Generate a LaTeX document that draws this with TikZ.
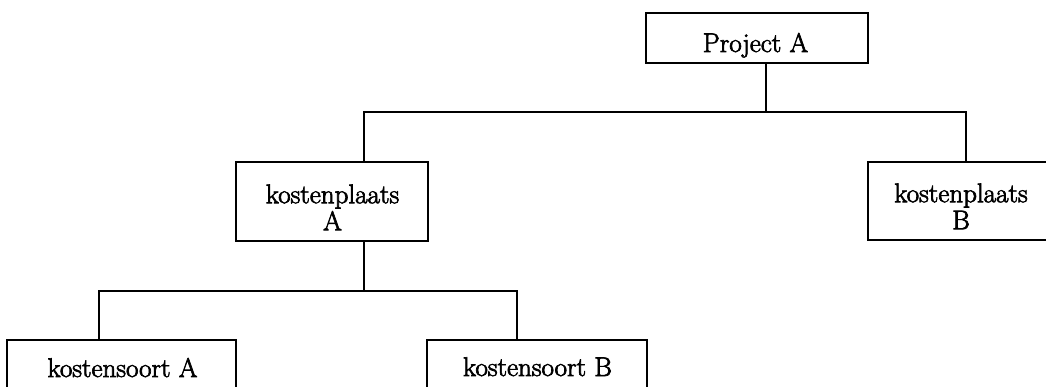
\documentclass[tikz,border=0pt]{standalone}
\usepackage{fontspec}
\setmainfont{Latin Modern Roman}[FakeBold=2.5]
\begin{document}
\begin{tikzpicture}[x=1pt,y=-1pt,
  boxnode/.style={draw=black, line width=1.7pt, inner sep=0pt, fill=none},
  txt/.style={inner sep=0pt, font=\fontsize{27}{27}\selectfont, align=center},
  conn/.style={draw=black, line width=1.7pt}]
\useasboundingbox (0,0) rectangle (1046,387);
\fill[white] (0,0) rectangle (1046,387);
\clip (0,0) rectangle (1046,387);
% boxes
\node[boxnode, minimum width=222pt, minimum height=50pt] (pa) at (757,38) {};
\node[boxnode, minimum width=192pt, minimum height=79pt] (kA) at (332,201.5) {};
\node[boxnode, minimum width=186pt, minimum height=78pt] (kB) at (961,201) {};
\node[boxnode, minimum width=229pt, minimum height=80pt] (sA) at (121.5,380) {};
\node[boxnode, minimum width=220pt, minimum height=80pt] (sB) at (537,380) {};
% texts
\node[txt, anchor=base] (tpa) at (755.5,52) {Project A};
\node[txt, anchor=north] (tkA) at (332.5,184.3) {kostenplaats\\A};
\node[txt, anchor=north] (tkB) at (961,183.3) {kostenplaats\\B};
\node[txt, anchor=base] (tsA) at (122.5,377) {kostensoort A};
\node[txt, anchor=base] (tsB) at (537.5,376) {kostensoort B};
% connectors
\coordinate (j1) at (766,112);
\coordinate (j2) at (364,291);
\draw[conn] (pa.south -| j1) -- (j1);
\draw[conn] ([xshift=32pt]kA.north) |- (j1) -| ([xshift=5pt]kB.north);
\draw[conn] (kA.south -| j2) -- (j2);
\draw[conn] ([xshift=-22.5pt]sA.north) |- (j2) -| ([xshift=-20pt]sB.north);
\end{tikzpicture}
\end{document}
